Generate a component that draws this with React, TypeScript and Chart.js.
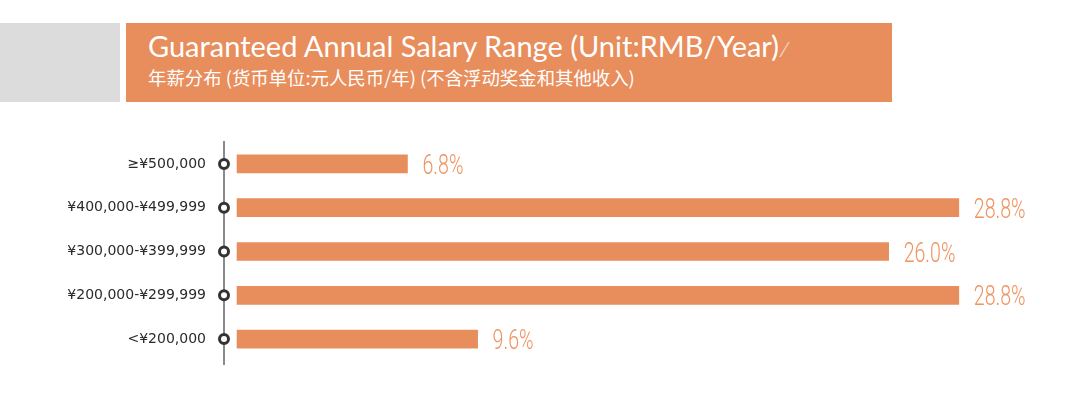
import React, { useEffect, useRef } from "react";
import { Chart, registerables } from "chart.js";

Chart.register(...registerables);

const categories = ["≥¥500,000", "¥400,000-¥499,999", "¥300,000-¥399,999", "¥200,000-¥299,999", "<¥200,000"];
const shares = [6.8, 28.8, 26.0, 28.8, 9.6];
const valueLabels = ["6.8%", "28.8%", "26.0%", "28.8%", "9.6%"];
const titleText = "Guaranteed Annual Salary Range (Unit:RMB/Year)";
const subtitleText = "年薪分布 (货币单位:元人民币/年) (不含浮动奖金和其他收入)";

const ORANGE = "#E88D5C";

const decorPlugin = {
  id: "decor",
  afterDatasetsDraw(chart: any) {
    const { ctx, chartArea, scales } = chart;
    const y = scales.y;
    const x = scales.x;
    const ax = chartArea.left;
    ctx.save();
    ctx.strokeStyle = "#8a8a8a";
    ctx.lineWidth = 2;
    ctx.beginPath();
    ctx.moveTo(ax, chartArea.top - 1);
    ctx.lineTo(ax, chartArea.bottom + 4);
    ctx.stroke();
    categories.forEach((_, i) => {
      const cy = y.getPixelForValue(i);
      ctx.beginPath();
      ctx.arc(ax, cy, 4.5, 0, Math.PI * 2);
      ctx.fillStyle = "#fff";
      ctx.fill();
      ctx.lineWidth = 3;
      ctx.strokeStyle = "#333";
      ctx.stroke();
    });
    const meta = chart.getDatasetMeta(0);
    meta.data.forEach((bar: any, i: number) => {
      const end = x.getPixelForValue(shares[i]);
      const cy = bar.y;
      ctx.save();
      ctx.translate(end + 15, cy + 10);
      ctx.scale(0.7, 1);
      ctx.font = "300 28px Roboto";
      ctx.fillStyle = "#EE9460";
      ctx.textBaseline = "alphabetic";
      ctx.textAlign = "left";
      ctx.fillText(valueLabels[i], 0, 0);
      ctx.restore();
    });
    ctx.restore();
  },
};

export default function App() {
  const ref = useRef<HTMLCanvasElement>(null);
  useEffect(() => {
    if (!ref.current) return;
    const chart = new Chart(ref.current, {
      type: "bar",
      data: {
        labels: categories,
        datasets: [
          {
            data: shares,
            backgroundColor: ORANGE,
            barThickness: 18,
            borderWidth: 0,
          },
        ],
      },
      options: {
        indexAxis: "y",
        animation: false,
        responsive: false,
        maintainAspectRatio: false,
        layout: { padding: { top: 142, bottom: 36, left: 0, right: 33 } },
        plugins: { legend: { display: false }, tooltip: { enabled: false } },
        scales: {
          x: { display: false, min: -0.52, max: 32 },
          y: {
            grid: { display: false, drawTicks: false },
            border: { display: false },
            ticks: {
              padding: 18,
              color: "#2b2b2b",
              font: { family: "DejaVu Sans", size: 14 },
            },
            afterFit: (scale: any) => {
              scale.width = 224;
            },
          },
        },
      },
      plugins: [decorPlugin],
    });
    return () => chart.destroy();
  }, []);

  return (
    <div style={{ position: "absolute", left: 0, top: 0, width: 1072, height: 397, background: "#fff", overflow: "hidden" }}>
      <div style={{ position: "absolute", left: 0, top: 23, width: 120, height: 79, background: "#DCDCDC" }} />
      <div style={{ position: "absolute", left: 126, top: 23, width: 766, height: 79, background: ORANGE }} />
      <div
        style={{
          position: "absolute",
          left: 148,
          top: 28,
          color: "#fff",
          fontFamily: "Lato, 'Noto Sans', sans-serif",
          fontSize: 29,
          lineHeight: "36px",
          whiteSpace: "nowrap",
        }}
      >
        {titleText}
        <span style={{ opacity: 0.6, fontSize: 21, marginLeft: 4 }}>⁄</span>
      </div>
      <div
        style={{
          position: "absolute",
          left: 148,
          top: 65,
          color: "#fff",
          fontFamily: "'Noto Sans CJK SC', 'Noto Sans', sans-serif",
          fontSize: 18.4,
          lineHeight: "24px",
          whiteSpace: "nowrap",
        }}
      >
        {subtitleText}
      </div>
      <canvas ref={ref} width={1072} height={397} style={{ position: "absolute", left: 0, top: 0 }} />
    </div>
  );
}
